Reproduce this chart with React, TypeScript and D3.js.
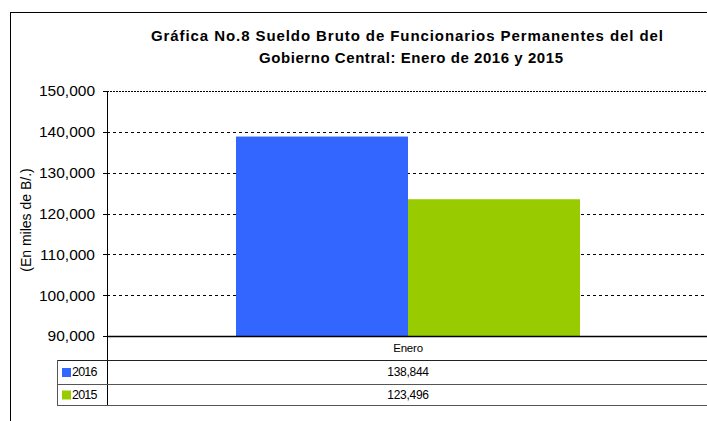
import React from "react";
import * as d3 from "d3";

// chart data
const categories = ["Enero"];
const seriesNames = ["2016", "2015"];
const values2016 = [138844];
const values2015 = [123496];
const seriesColors = ["#3366FF", "#99CC00"];
const yTicks = [90000, 100000, 110000, 120000, 130000, 140000, 150000];
const titleLines = [
  "Gráfica No.8 Sueldo Bruto de Funcionarios Permanentes del del",
  "Gobierno Central: Enero de 2016 y 2015",
];
const yTitle = "(En miles de B/.)";

const W = 707;
const H = 421;

export default function App() {
  const font = "'Liberation Sans', Arial, sans-serif";
  const plot = { left: 107, right: 709, top: 91, bottom: 336 };
  const table = { left: 57, rowCat: 360, row1: 384, row2: 405 };

  const series = [values2016, values2015];

  const y = d3.scaleLinear().domain([90000, 150000]).range([plot.bottom, plot.top]);
  const x = d3.scaleBand().domain(categories).range([plot.left, plot.right]);
  const xSub = d3
    .scaleBand()
    .domain(seriesNames)
    .range([0, x.bandwidth()])
    .paddingInner(0)
    .paddingOuter(0.75);

  const fmt = d3.format(",");

  return (
    <svg
      width={W}
      height={H}
      style={{ position: "absolute", left: 0, top: 0, background: "#fff" }}
      fontFamily={font}
    >
      {/* chart frame */}
      <line x1={10.5} x2={10.5} y1={12} y2={H} stroke="#000" />
      <line x1={10} x2={W} y1={12.5} y2={12.5} stroke="#000" />

      {/* title */}
      {titleLines.map((t, i) => (
        <text
          key={i}
          x={i === 0 ? 151 : 259}
          y={i === 0 ? 41 : 63}
          fontSize={15}
          fontWeight="bold"
          fill="#000"
          textLength={i === 0 ? 512 : 304}
          lengthAdjust="spacing"
        >
          {t}
        </text>
      ))}

      {/* gridlines */}
      {yTicks
        .filter((t) => t !== 90000)
        .map((t) => (
          <line
            key={t}
            x1={plot.left}
            x2={plot.right}
            y1={Math.round(y(t)) + 0.5}
            y2={Math.round(y(t)) + 0.5}
            stroke="#000"
            strokeDasharray={t === 150000 ? "2,1" : "3,3"}
          />
        ))}

      {/* bars */}
      {categories.map((c, ci) =>
        seriesNames.map((s, si) => (
          <rect
            key={c + s}
            x={(x(c) ?? 0) + (xSub(s) ?? 0)}
            y={y(series[si][ci])}
            width={xSub.bandwidth()}
            height={plot.bottom - y(series[si][ci])}
            fill={seriesColors[si]}
          />
        ))
      )}

      {/* y axis */}
      <line x1={plot.left + 0.5} x2={plot.left + 0.5} y1={plot.top} y2={table.row2} stroke="#000" />
      {yTicks.map((t) => (
        <g key={t}>
          <line
            x1={plot.left - 4}
            x2={plot.left}
            y1={Math.round(y(t)) + 0.5}
            y2={Math.round(y(t)) + 0.5}
            stroke="#000"
          />
          <text
            x={95}
            y={y(t)}
            dy="0.35em"
            textAnchor="end"
            fontSize={15.5}
            fill="#000"
          >
            {fmt(t)}
          </text>
        </g>
      ))}
      <text
        transform={`translate(31,220) rotate(-90)`}
        textAnchor="middle"
        fontSize={14}
        fill="#000"
      >
        {yTitle}
      </text>

      {/* x axis line */}
      <line x1={plot.left} x2={W} y1={plot.bottom + 0.5} y2={plot.bottom + 0.5} stroke="#000" strokeWidth={1.5} />

      {/* data table */}
      <line x1={table.left} x2={W} y1={table.rowCat + 0.5} y2={table.rowCat + 0.5} stroke="#222" />
      <line x1={table.left} x2={W} y1={table.row1 + 0.5} y2={table.row1 + 0.5} stroke="#555" />
      <line x1={table.left} x2={W} y1={table.row2 + 0.5} y2={table.row2 + 0.5} stroke="#555" />
      <line x1={table.left + 0.5} x2={table.left + 0.5} y1={table.rowCat} y2={table.row2 + 1} stroke="#555" />

      {categories.map((c) => (
        <text
          key={c}
          x={(x(c) ?? 0) + x.bandwidth() / 2}
          y={352}
          textAnchor="middle"
          fontSize={11.5}
          letterSpacing={-0.2}
          fill="#000"
        >
          {c}
        </text>
      ))}

      {seriesNames.map((s, si) => {
        const rowTop = si === 0 ? table.rowCat : table.row1;
        const rowBottom = si === 0 ? table.row1 : table.row2;
        const mid = (rowTop + rowBottom) / 2;
        return (
          <g key={s}>
            <rect x={62} y={mid - 4} width={9} height={9} fill={seriesColors[si]} />
            <text x={72} y={mid} dy="0.35em" fontSize={12.5} letterSpacing={-0.8} fill="#000">
              {s}
            </text>
            {categories.map((c, ci) => (
              <text
                key={c}
                x={(x(c) ?? 0) + x.bandwidth() / 2}
                y={mid}
                dy="0.35em"
                textAnchor="middle"
                fontSize={12}
                letterSpacing={-0.3}
                fill="#000"
              >
                {fmt(series[si][ci])}
              </text>
            ))}
          </g>
        );
      })}
    </svg>
  );
}
